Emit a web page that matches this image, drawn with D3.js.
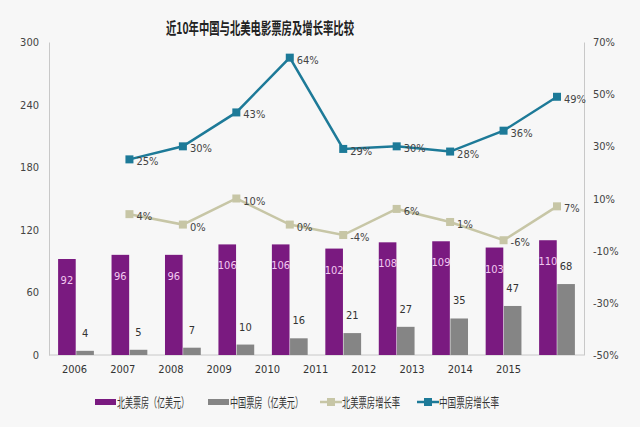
<!DOCTYPE html>
<html><head><meta charset="utf-8">
<script src="https://cdn.jsdelivr.net/npm/d3@7"></script>
<style>
html,body{margin:0;padding:0;background:#f7f7f7;}
svg{display:block;font-family:"Noto Sans CJK SC","DejaVu Sans Condensed",sans-serif;}
</style></head>
<body>
<script>
const years = ["2006","2007","2008","2009","2010","2011","2012","2013","2014","2015"];
const naBox = [92,96,96,106,106,102,108,109,103,110];
const cnBox = [4,5,7,10,16,21,27,35,47,68];
const growthYears = ["2007","2008","2009","2010","2011","2012","2013","2014","2015"];
const naGrowth = [4,0,10,0,-4,6,1,-6,7];
const cnGrowth = [25,30,43,64,29,30,28,36,49];
const leftTicks = [0,60,120,180,240,300];
const rightTicks = [-50,-30,-10,10,30,50,70];
const seriesNames = ["北美票房（亿美元）","中国票房（亿美元）","北美票房增长率","中国票房增长率"];
const title = "近10年中国与北美电影票房及增长率比较";

const W=640,H=427;
const colors = {na:"#7a1a80", cn:"#858585", nag:"#c7c6a6", cng:"#1d7a98"};
const svg = d3.select("body").append("svg").attr("width",W).attr("height",H);
svg.append("rect").attr("width",W).attr("height",H).attr("fill","#f7f7f7");

const x0=49,x1=584,yTop=42,yBot=355;
const x = d3.scaleBand().domain(years).range([x0,x1]).paddingInner(0.31).paddingOuter(0.16);
const xs = d3.scaleBand().domain(["na","cn"]).range([0,x.bandwidth()]).padding(0.03);
const xc = d => x(d)+x.bandwidth()/2;
const yL = d3.scaleLinear().domain([0,300]).range([yBot,yTop]);
const yR = d3.scaleLinear().domain([-50,70]).range([yBot,yTop]);
const xLab = d3.scalePoint().domain(years).range([74,508]);

// title
svg.append("text").attr("x",260).attr("y",34).attr("text-anchor","middle")
  .attr("font-size",16).attr("font-weight","bold").attr("fill","#222")
  .attr("textLength",188).attr("lengthAdjust","spacingAndGlyphs").text(title);

// axes
const axL = svg.append("g").attr("transform",`translate(${x0},0)`)
  .call(d3.axisLeft(yL).tickValues(leftTicks).tickSize(0).tickPadding(10));
const axR = svg.append("g").attr("transform",`translate(${x1},0)`)
  .call(d3.axisRight(yR).tickValues(rightTicks).tickSize(0).tickPadding(9).tickFormat(d=>d+"%"));
const axB = svg.append("g").attr("transform",`translate(0,${yBot})`)
  .call(d3.axisBottom(xLab).tickSize(0).tickPadding(10));
[axL,axR].forEach(a=>{a.select(".domain").attr("stroke","#c8c8c8");
  a.selectAll("text").attr("font-size",11).attr("fill","#444").attr("font-family","'DejaVu Sans Condensed',sans-serif");});
axB.select(".domain").remove();
axB.selectAll("text").attr("font-size",11).attr("fill","#333").attr("font-family","'DejaVu Sans Condensed',sans-serif");
svg.append("line").attr("x1",x0).attr("x2",x1).attr("y1",yBot).attr("y2",yBot).attr("stroke","#c8c8c8");

// bars
const g = svg.append("g");
g.selectAll(".na").data(years).join("rect").attr("x",d=>x(d)+xs("na")).attr("width",xs.bandwidth())
  .attr("y",(d,i)=>yL(naBox[i])).attr("height",(d,i)=>yBot-yL(naBox[i])).attr("fill",colors.na);
g.selectAll(".cn").data(years).join("rect").attr("x",d=>x(d)+xs("cn")).attr("width",xs.bandwidth())
  .attr("y",(d,i)=>yL(cnBox[i])).attr("height",(d,i)=>yBot-yL(cnBox[i])).attr("fill",colors.cn);
g.selectAll(".nal").data(years).join("text").attr("x",d=>x(d)+xs("na")+xs.bandwidth()/2)
  .attr("y",(d,i)=>yL(naBox[i])+25).attr("text-anchor","middle").attr("font-size",11)
  .attr("font-family","'DejaVu Sans Condensed',sans-serif").attr("fill","#f2c8f0").text((d,i)=>naBox[i]);
g.selectAll(".cnl").data(years).join("text").attr("x",d=>x(d)+xs("cn")+xs.bandwidth()/2)
  .attr("y",(d,i)=>yL(cnBox[i])-14).attr("text-anchor","middle").attr("font-size",11)
  .attr("font-family","'DejaVu Sans Condensed',sans-serif").attr("fill","#333").text((d,i)=>cnBox[i]);

// lines
function drawLine(vals,color){
  const pts = growthYears.map((d,i)=>[xc(d),yR(vals[i]),vals[i]]);
  svg.append("path").attr("d",d3.line()(pts.map(p=>[p[0],p[1]]))).attr("fill","none")
    .attr("stroke",color).attr("stroke-width",2.5);
  svg.selectAll(null).data(pts).join("rect").attr("x",p=>p[0]-4).attr("y",p=>p[1]-4)
    .attr("width",8).attr("height",8).attr("fill",color);
  svg.selectAll(null).data(pts).join("text").attr("x",p=>p[0]+7).attr("y",p=>p[1]+6)
    .attr("font-size",11).attr("font-family","'DejaVu Sans Condensed',sans-serif")
    .attr("fill","#444").text(p=>p[2]+"%");
}
drawLine(naGrowth,colors.nag);
drawLine(cnGrowth,colors.cng);

// legend
const lg = svg.append("g").attr("font-size",13).attr("fill","#333");
const items = [
  {x:95,type:"bar",c:colors.na,t:seriesNames[0],w:72},
  {x:208,type:"bar",c:colors.cn,t:seriesNames[1],w:73},
  {x:320,type:"line",c:colors.nag,t:seriesNames[2],w:58},
  {x:417,type:"line",c:colors.cng,t:seriesNames[3],w:60}];
items.forEach(it=>{
  if(it.type==="bar"){
    lg.append("rect").attr("x",it.x).attr("y",399).attr("width",21).attr("height",6).attr("fill",it.c);
  } else {
    lg.append("line").attr("x1",it.x).attr("x2",it.x+22).attr("y1",402).attr("y2",402).attr("stroke",it.c).attr("stroke-width",2.5);
    lg.append("rect").attr("x",it.x+7).attr("y",398).attr("width",8).attr("height",8).attr("fill",it.c);
  }
  lg.append("text").attr("x",it.x+22).attr("y",407).attr("fill","#333")
    .attr("textLength",it.w).attr("lengthAdjust","spacingAndGlyphs").text(it.t);
});
</script>
</body></html>
